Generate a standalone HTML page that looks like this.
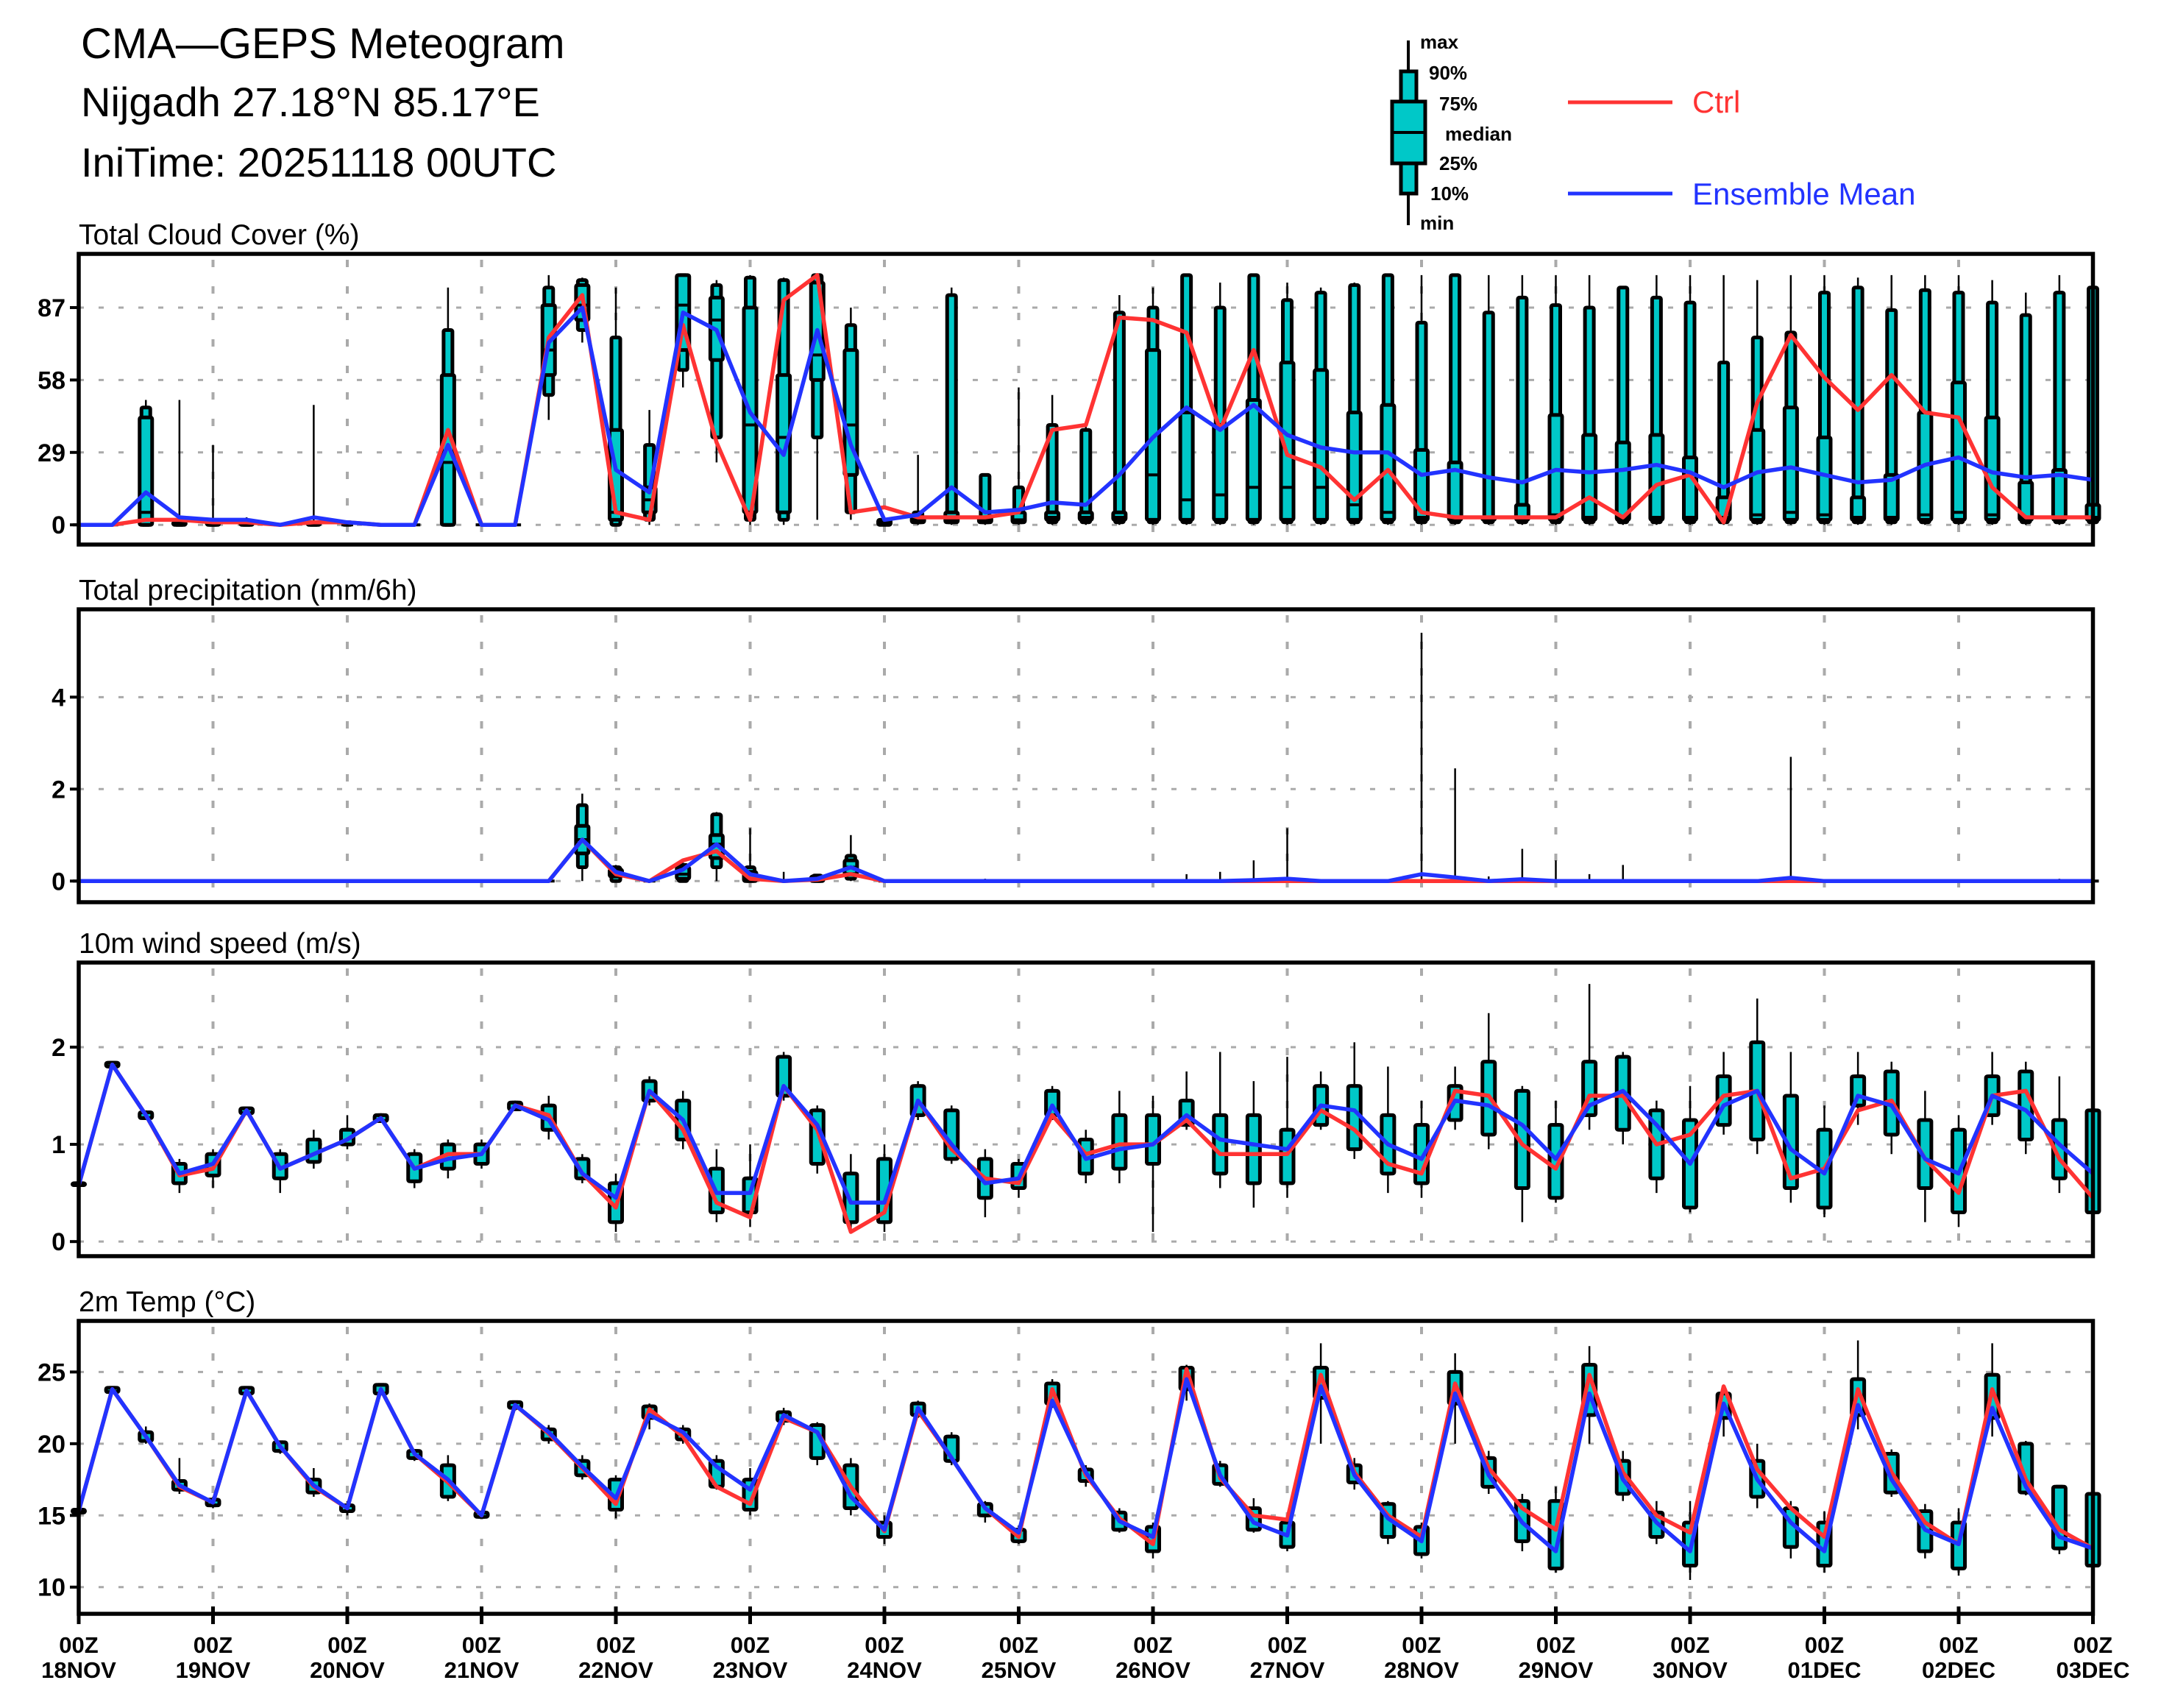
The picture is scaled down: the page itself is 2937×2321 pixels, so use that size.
<!DOCTYPE html>
<html><head><meta charset="utf-8">
<style>
html,body{margin:0;padding:0;background:#fff;}
svg{display:block;}
text{font-family:"Liberation Sans",sans-serif;}
</style></head>
<body>
<svg id="chart" xmlns="http://www.w3.org/2000/svg" width="2937" height="2321" viewBox="0 0 2937 2321">
<rect x="0" y="0" width="2937" height="2321" fill="#fff"/>
<g>
<text x="110" y="79" font-size="58">CMA—GEPS  Meteogram</text>
<text x="110" y="158" font-size="56">Nijgadh 27.18°N 85.17°E</text>
<text x="110" y="240" font-size="56">IniTime: 20251118 00UTC</text>
</g>
<g font-weight="bold" font-size="26">
<line x1="1914" y1="55" x2="1914" y2="306" stroke="#000" stroke-width="4"/>
<rect x="1904" y="97" width="21" height="166" fill="#00c8c8" stroke="#000" stroke-width="5"/>
<rect x="1892" y="138" width="45" height="84" fill="#00c8c8" stroke="#000" stroke-width="5"/>
<line x1="1892" y1="180" x2="1937" y2="180" stroke="#000" stroke-width="4"/>
<text x="1930" y="66">max</text><text x="1942" y="108">90%</text><text x="1956" y="150">75%</text>
<text x="1964" y="191">median</text><text x="1956" y="231">25%</text><text x="1944" y="272">10%</text><text x="1930" y="312">min</text>
<g>
<line x1="2131" y1="139" x2="2273" y2="139" stroke="#ff3333" stroke-width="5"/>
<text x="2300" y="153" font-size="42" font-weight="normal" fill="#ff3333">Ctrl</text></g>
<g>
<line x1="2131" y1="263" x2="2273" y2="263" stroke="#2233ff" stroke-width="5"/>
<text x="2300" y="278" font-size="42" font-weight="normal" fill="#2233ff">Ensemble Mean</text></g>
</g>
<g id="panels"></g>
</svg>
<script>
// ---- shared axis data ----
const dayLabels = ["18NOV","19NOV","20NOV","21NOV","22NOV","23NOV","24NOV","25NOV","26NOV","27NOV","28NOV","29NOV","30NOV","01DEC","02DEC","03DEC"];
// ---- Total cloud cover ----
const ccCtrl=[0,0,2,2,1,1,0,1,1,0,0,38,0,0,75,92,5,2,80,33,2,90,100,5,7,3,3,3,5,38,40,83,82,77,38,70,28,23,10,22,5,3,3,3,3,11,3,16,20,1,49,76,59,46,60,45,43,15,3,3,3];
const ccMean=[0,0,13,3,2,2,0,3,1,0,0,32,0,0,73,87,22,13,85,78,45,28,78,32,2,4,15,5,6,9,8,20,35,47,38,48,36,31,29,29,20,22,19,17,22,21,22,24,21,15,21,23,20,17,18,24,27,21,19,20,18];
const ccMax=[0,0,50,50,32,3,0,48,1,0,0,95,0,0,100,99,95,46,100,98,100,99,100,87,3,28,95,20,55,52,40,92,95,100,97,100,97,95,97,100,100,100,100,100,100,100,95,100,100,100,98,100,100,99,100,100,100,98,93,100,95];
const ccP90=[0,0,47,2,1,1,0,1,1,0,0,78,0,0,95,98,75,32,100,96,99,98,100,80,2,5,92,20,15,40,38,85,87,100,87,100,90,93,96,100,81,100,85,91,88,87,95,91,89,65,75,77,93,95,86,94,93,89,84,93,95];
const ccP75=[0,0,43,1,1,1,0,1,0,0,0,60,0,0,88,96,38,15,100,91,87,60,97,70,2,3,5,3,5,5,5,5,70,45,40,50,65,62,45,48,30,25,3,8,44,36,33,36,27,11,38,47,35,11,20,45,57,43,17,22,8];
const ccMed=[0,0,5,0,0,0,0,0,0,0,0,25,0,0,70,88,5,10,88,82,40,35,68,40,1,2,2,2,2,3,3,3,20,10,12,15,15,15,8,5,3,3,2,3,4,3,3,3,3,3,4,5,4,3,3,4,5,4,3,3,3];
const ccP25=[0,0,0,0,0,0,0,0,0,0,0,0,0,0,60,82,2,5,70,66,5,5,58,20,0,1,1,1,1,2,2,2,2,2,2,2,2,2,2,2,2,2,2,2,2,2,2,2,2,2,2,2,2,2,2,2,2,2,2,2,2];
const ccP10=[0,0,0,0,0,0,0,0,0,0,0,0,0,0,52,78,0,2,62,35,2,2,35,5,1,1,1,1,1,1,1,1,1,1,1,1,1,1,1,1,1,1,1,1,1,1,1,1,1,1,1,1,1,1,1,1,1,1,1,1,1];
const ccMin=[0,0,0,0,0,0,0,0,0,0,0,0,0,0,42,73,0,0,55,25,0,0,2,2,0,0,0,0,0,0,0,0,0,0,0,0,0,0,0,0,0,0,0,0,0,0,0,0,0,0,0,0,0,0,0,0,0,0,0,0,0];
const ccTicks=[0,29,58,87];
// ---- Precipitation ----
const prCtrl=[0,0,0,0,0,0,0,0,0,0,0,0,0,0,0,0.9,0.15,0,0.45,0.65,0.05,0,0.03,0.15,0,0,0,0,0,0,0,0,0,0,0,0,0,0,0,0,0,0,0,0,0,0,0,0,0,0,0,0,0,0,0,0,0,0,0,0,0];
const prMean=[0,0,0,0,0,0,0,0,0,0,0,0,0,0,0,0.9,0.2,0,0.25,0.8,0.15,0,0.05,0.3,0,0,0,0,0,0,0,0,0,0,0,0.02,0.05,0,0,0,0.15,0.08,0,0.04,0,0,0,0,0,0,0,0.07,0,0,0,0,0,0,0,0,0];
const prMax=[0,0,0,0,0,0,0,0,0,0,0,0.02,0,0,0,1.9,0.35,0,0.4,1.5,1.15,0.2,0.15,1.0,0,0,0.03,0.05,0,0,0,0,0,0.15,0.2,0.45,1.15,0,0,0,5.4,2.45,0.1,0.7,0.45,0.15,0.35,0,0,0,0,2.7,0,0,0,0,0,0,0,0.05,0];
const prP90=[0,0,0,0,0,0,0,0,0,0,0,0,0,0,0,1.65,0.3,0,0.35,1.45,0.3,0,0.12,0.55,0,0,0,0,0,0,0,0,0,0,0,0,0,0,0,0,0,0,0,0,0,0,0,0,0,0,0,0,0,0,0,0,0,0,0,0,0];
const prP75=[0,0,0,0,0,0,0,0,0,0,0,0,0,0,0,1.2,0.25,0,0.3,1.0,0.2,0,0.1,0.45,0,0,0,0,0,0,0,0,0,0,0,0,0,0,0,0,0,0,0,0,0,0,0,0,0,0,0,0,0,0,0,0,0,0,0,0,0];
const prMed=[0,0,0,0,0,0,0,0,0,0,0,0,0,0,0,0.9,0.15,0,0.15,0.8,0.05,0,0,0.3,0,0,0,0,0,0,0,0,0,0,0,0,0,0,0,0,0,0,0,0,0,0,0,0,0,0,0,0,0,0,0,0,0,0,0,0,0];
const prP25=[0,0,0,0,0,0,0,0,0,0,0,0,0,0,0,0.6,0.1,0,0.05,0.5,0,0,0,0.15,0,0,0,0,0,0,0,0,0,0,0,0,0,0,0,0,0,0,0,0,0,0,0,0,0,0,0,0,0,0,0,0,0,0,0,0,0];
const prP10=[0,0,0,0,0,0,0,0,0,0,0,0,0,0,0,0.3,0,0,0,0.3,0,0,0,0.05,0,0,0,0,0,0,0,0,0,0,0,0,0,0,0,0,0,0,0,0,0,0,0,0,0,0,0,0,0,0,0,0,0,0,0,0,0];
const prMin=[0,0,0,0,0,0,0,0,0,0,0,0,0,0,0,0,0,0,0,0,0,0,0,0,0,0,0,0,0,0,0,0,0,0,0,0,0,0,0,0,0,0,0,0,0,0,0,0,0,0,0,0,0,0,0,0,0,0,0,0,0];
const prTicks=[0,2,4];
// ---- 10m wind ----
const wsCtrl=[0.58,1.82,1.3,0.68,0.75,1.35,0.75,0.9,1.05,1.27,0.75,0.9,0.9,1.4,1.3,0.7,0.35,1.55,1.15,0.4,0.25,1.6,1.15,0.1,0.3,1.45,0.95,0.65,0.6,1.3,0.9,1.0,1.0,1.25,0.9,0.9,0.9,1.35,1.15,0.8,0.7,1.55,1.5,1.0,0.75,1.5,1.5,1.0,1.1,1.5,1.55,0.65,0.75,1.35,1.45,0.85,0.5,1.5,1.55,0.85,0.45];
const wsMean=[0.58,1.82,1.3,0.7,0.8,1.35,0.75,0.9,1.05,1.27,0.75,0.85,0.9,1.4,1.25,0.7,0.45,1.55,1.25,0.5,0.5,1.6,1.2,0.4,0.4,1.45,1.0,0.6,0.65,1.4,0.85,0.95,1.0,1.3,1.05,1.0,0.95,1.4,1.35,1.0,0.85,1.45,1.4,1.2,0.85,1.4,1.55,1.2,0.8,1.4,1.55,0.95,0.7,1.5,1.4,0.85,0.7,1.5,1.35,1.0,0.7];
const wsP25=[0.58,1.8,1.27,0.6,0.68,1.32,0.65,0.82,1.0,1.24,0.62,0.75,0.8,1.36,1.15,0.65,0.2,1.45,1.05,0.3,0.3,1.5,0.8,0.2,0.2,1.3,0.85,0.45,0.55,1.3,0.7,0.75,0.8,1.2,0.7,0.6,0.6,1.2,0.95,0.7,0.6,1.25,1.1,0.55,0.45,1.3,1.15,0.65,0.35,1.2,1.05,0.55,0.35,1.4,1.1,0.55,0.3,1.3,1.05,0.65,0.3];
const wsP75=[0.6,1.84,1.33,0.8,0.9,1.37,0.9,1.05,1.15,1.3,0.9,1.0,1.0,1.43,1.4,0.85,0.6,1.65,1.45,0.75,0.65,1.9,1.35,0.7,0.85,1.6,1.35,0.85,0.8,1.55,1.05,1.3,1.3,1.45,1.3,1.3,1.15,1.6,1.6,1.3,1.2,1.6,1.85,1.55,1.2,1.85,1.9,1.35,1.25,1.7,2.05,1.5,1.15,1.7,1.75,1.25,1.15,1.7,1.75,1.25,1.35];
const wsMin=[0.58,1.8,1.25,0.5,0.55,1.3,0.5,0.75,0.95,1.22,0.55,0.65,0.75,1.35,1.05,0.6,0.1,1.4,0.95,0.2,0.15,1.45,0.7,0.1,0.1,1.25,0.8,0.25,0.45,1.25,0.6,0.6,0.1,1.15,0.55,0.35,0.45,1.15,0.85,0.5,0.45,1.15,0.95,0.2,0.4,1.15,1.0,0.5,0.3,1.1,0.9,0.4,0.25,1.2,0.9,0.2,0.15,1.2,0.9,0.5,0.15];
const wsMax=[0.6,1.85,1.35,0.85,0.95,1.38,0.95,1.15,1.3,1.32,0.95,1.05,1.05,1.45,1.5,0.9,0.7,1.7,1.55,0.95,1.0,1.95,1.4,0.9,1.0,1.65,1.4,0.95,0.85,1.6,1.15,1.55,1.5,1.75,1.95,1.65,1.9,1.75,2.05,1.8,1.45,1.8,2.35,1.6,1.45,2.65,1.95,1.45,1.6,1.95,2.5,1.95,1.4,1.95,1.85,1.55,1.3,1.95,1.85,1.7,1.4];
const wsTicks=[0,1,2];
// ---- 2m temperature ----
const tCtrl=[15.3,23.8,20.5,17.0,15.9,23.7,19.8,17.0,15.5,23.8,19.3,17.3,15.0,22.7,20.7,18.3,15.8,22.4,20.5,17.0,15.8,21.8,20.8,17.0,13.9,22.3,19.0,15.5,13.5,23.8,17.8,14.8,13.0,25.2,17.6,15.0,14.7,24.8,18.0,15.0,13.5,24.2,18.3,15.5,14.0,24.8,18.0,15.0,13.8,24.0,18.2,15.5,13.5,23.8,18.0,14.5,13.0,23.8,17.5,14.0,12.7];
const tMean=[15.3,23.8,20.5,17.1,15.9,23.7,19.8,17.1,15.5,23.8,19.3,17.5,15.0,22.7,20.8,18.4,16.2,22.0,20.8,18.4,16.8,22.0,20.8,16.3,14.0,22.5,19.0,15.5,13.8,23.0,18.0,14.6,13.5,24.5,17.8,14.5,13.6,24.0,17.8,14.8,13.2,23.5,17.8,14.5,12.5,23.5,17.5,14.5,12.5,22.8,17.5,14.5,12.5,22.7,17.5,14.0,13.0,22.5,17.0,13.5,12.7];
const tP25=[15.2,23.6,20.2,16.8,15.7,23.5,19.5,16.6,15.3,23.5,19.0,16.3,14.9,22.5,20.3,17.8,15.4,21.8,20.3,17.0,15.4,21.6,19.0,15.5,13.5,22.0,18.8,15.0,13.2,22.8,17.4,14.0,12.5,23.8,17.2,14.0,12.8,23.2,17.3,13.5,12.3,22.8,17.0,13.2,11.3,22.0,16.5,13.5,11.5,21.8,16.3,12.8,11.5,22.0,16.6,12.5,11.3,21.8,16.6,12.7,11.5];
const tP75=[15.4,23.9,20.8,17.4,16.1,23.9,20.1,17.5,15.7,24.1,19.5,18.5,15.2,22.9,21.0,18.8,17.5,22.6,21.0,18.8,17.5,22.2,21.3,18.5,14.5,22.8,20.5,15.8,14.0,24.2,18.2,15.2,14.2,25.3,18.5,15.5,14.5,25.3,18.5,15.8,14.2,25.0,19.0,16.0,16.0,25.5,18.8,15.2,14.5,23.5,18.8,15.5,14.5,24.5,19.3,15.3,14.5,24.8,20.0,17.0,16.5];
const tMin=[15.1,23.5,20.0,16.5,15.5,23.4,19.3,16.3,15.0,23.4,18.8,16.0,14.8,22.3,20.0,17.5,14.8,21.0,20.0,16.8,15.0,21.3,18.5,15.0,13.0,21.8,18.5,14.5,13.0,22.5,17.0,13.8,12.0,23.0,17.0,13.8,12.5,20.0,16.8,13.0,12.0,20.0,16.5,12.5,11.0,20.0,16.0,13.0,10.5,20.5,15.5,12.0,11.0,21.0,16.3,12.0,10.8,20.5,16.4,12.3,10.8];
const tMax=[15.5,24.0,21.2,19.0,16.3,24.0,20.2,18.3,16.0,24.2,19.6,19.2,15.3,23.0,21.3,19.2,17.8,22.8,21.3,19.2,18.3,22.5,21.5,19.0,15.0,23.0,20.8,16.0,14.3,24.5,18.5,15.5,14.5,25.5,18.8,16.2,15.0,27.0,19.0,16.0,14.5,26.3,19.5,16.5,17.0,26.8,19.5,16.0,16.0,24.0,20.0,16.0,15.3,27.2,19.6,15.8,15.5,27.0,20.2,17.0,16.8];
const tTicks=[10,15,20,25];

const NS="http://www.w3.org/2000/svg";
const X0=107, DAYW=182.5, NSTEP=60;
const X1=X0+15*DAYW;
function xAt(i){return X0+i*DAYW/4;}
function mk(tag,attrs,parent){const e=document.createElementNS(NS,tag);for(const k in attrs)e.setAttribute(k,attrs[k]);parent.appendChild(e);return e;}
const root=document.getElementById('panels');

function panel(name,title,top,bot,vTop,vBot,ticks,s,isLast){
  const g=mk('g',{},root);
  
  
  const y=v=>top+(vTop-v)/(vTop-vBot)*(bot-top);
  const t=mk('text',{x:107,y:top-13,'font-size':39},g);t.textContent=title;
  
  
  // grid
  ticks.forEach(v=>{
    const l=mk('line',{x1:X0,x2:X1,y1:y(v),y2:y(v),stroke:'#aaa','stroke-width':3,'stroke-dasharray':'7 20'},g);
    
    
    mk('line',{x1:X0-12,x2:X0,y1:y(v),y2:y(v),stroke:'#000','stroke-width':4},g);
    const tl=mk('text',{x:X0-18,y:y(v)+12,'font-size':34,'font-weight':'bold','text-anchor':'end'},g);
    tl.textContent=String(v);
    
    
  });
  for(let d=1;d<15;d++){
    const l=mk('line',{x1:X0+d*DAYW,x2:X0+d*DAYW,y1:top+8,y2:bot,stroke:'#aaa','stroke-width':4,'stroke-dasharray':'10 26'},g);
    
    
  }
  // boxes
  for(let i=0;i<=NSTEP;i++){
    const x=xAt(i);
    const w=mk('line',{x1:x,x2:x,y1:y(s.mx[i]),y2:y(s.mn[i]),stroke:'#000','stroke-width':2.5},g);
    
    
    const b1=mk('rect',{x:x-6,y:y(s.p90[i]),width:12,height:Math.max(0,y(s.p10[i])-y(s.p90[i])),fill:'#00c8c8',stroke:'#000','stroke-width':5,rx:2},g);
    
    
    const b2=mk('rect',{x:x-8.5,y:y(s.p75[i]),width:17,height:Math.max(0,y(s.p25[i])-y(s.p75[i])),fill:'#00c8c8',stroke:'#000','stroke-width':5,rx:2},g);
    
    
    if(s.med){const m=mk('line',{x1:x-8,x2:x+8,y1:y(s.med[i]),y2:y(s.med[i]),stroke:'#000','stroke-width':4},g);
    
    }
  }
  const pts=a=>a.map((v,i)=>xAt(i).toFixed(1)+','+y(v).toFixed(1)).join(' ');
  const lc=mk('polyline',{points:pts(s.ctrl),fill:'none',stroke:'#ff3333','stroke-width':5.5,'stroke-linejoin':'round'},g);
  
  
  const lm=mk('polyline',{points:pts(s.mean),fill:'none',stroke:'#2233ff','stroke-width':5.5,'stroke-linejoin':'round'},g);
  
  
  const fr=mk('rect',{x:X0,y:top,width:X1-X0,height:bot-top,fill:'none',stroke:'#000','stroke-width':5.5},g);
  
  
  if(isLast){
    for(let d=0;d<=15;d++){
      const xx=X0+d*DAYW;
      mk('line',{x1:xx,x2:xx,y1:bot-10,y2:bot+14,stroke:'#000','stroke-width':5},g);
      const a=mk('text',{x:xx,y:2246,'font-size':31,'font-weight':'bold','text-anchor':'middle'},g);a.textContent='00Z';
      
      
      const b=mk('text',{x:xx,y:2280,'font-size':31,'font-weight':'bold','text-anchor':'middle'},g);b.textContent=dayLabels[d];
      
      
    }
  }
}
panel('cloud-cover','Total Cloud Cover (%)',345,740,108.5,-7.9,ccTicks,{ctrl:ccCtrl,mean:ccMean,mx:ccMax,p90:ccP90,p75:ccP75,med:ccMed,p25:ccP25,p10:ccP10,mn:ccMin},false);
panel('precipitation','Total precipitation (mm/6h)',828,1226,5.91,-0.46,prTicks,{ctrl:prCtrl,mean:prMean,mx:prMax,p90:prP90,p75:prP75,med:prMed,p25:prP25,p10:prP10,mn:prMin},false);
panel('wind-speed','10m wind speed (m/s)',1308,1707,2.87,-0.15,wsTicks,{ctrl:wsCtrl,mean:wsMean,mx:wsMax,p90:wsP75,p75:wsP75,med:null,p25:wsP25,p10:wsP25,mn:wsMin},false);
panel('temperature','2m Temp (°C)',1795,2193,28.56,8.14,tTicks,{ctrl:tCtrl,mean:tMean,mx:tMax,p90:tP75,p75:tP75,med:null,p25:tP25,p10:tP25,mn:tMin},true);
</script>
</body></html>
